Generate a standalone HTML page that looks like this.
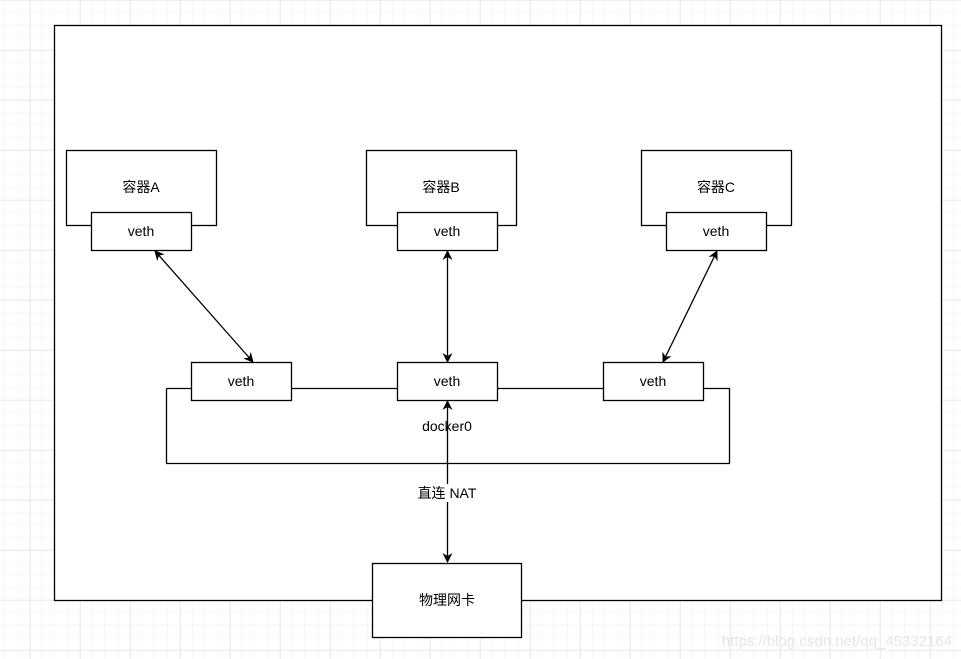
<!DOCTYPE html>
<html><head><meta charset="utf-8"><style>
html,body{margin:0;padding:0;background:#fff;}
svg{display:block;}
text{font-family:"Liberation Sans","Noto Sans CJK SC",sans-serif;font-size:14px;fill:#000;}
</style></head><body>
<svg width="961" height="659" viewBox="0 0 961 659" xmlns="http://www.w3.org/2000/svg">
<defs>
<pattern id="minor" width="12.5" height="12.5" patternUnits="userSpaceOnUse" x="5" y="0">
<path d="M12.5 0V12.5M0 12.5H12.5" fill="none" stroke="#f0f0f0" stroke-width="1"/>
</pattern>
<pattern id="major" width="50" height="50" patternUnits="userSpaceOnUse" x="30" y="0">
<path d="M0 0V50M0 0H50" fill="none" stroke="#dedede" stroke-width="1"/>
</pattern>
<marker id="ar" markerWidth="10" markerHeight="10" refX="9" refY="5" orient="auto-start-reverse" markerUnits="userSpaceOnUse">
<path d="M0 0L10 5L0 10L3 5Z" fill="#000"/>
</marker>
</defs>
<rect width="961" height="659" fill="url(#minor)"/>
<rect width="961" height="659" fill="url(#major)"/>
<rect x="54.5" y="25.5" width="887" height="575" fill="#fff" stroke="#000" stroke-width="1.3"/>
<g fill="#fff" stroke="#000" stroke-width="1.3">
<rect x="66.5" y="150.5" width="150" height="75"/>
<rect x="366.5" y="150.5" width="150" height="75"/>
<rect x="641.5" y="150.5" width="150" height="75"/>
<rect x="91.5" y="212.5" width="100" height="38"/>
<rect x="397.5" y="212.5" width="100" height="38"/>
<rect x="666.5" y="212.5" width="100" height="38"/>
<path d="M166.5 388.5V463.5H729.5V388.5H703M291 388.5H397M497 388.5H603M166.5 388.5H191" fill="none"/>
<rect x="191.5" y="362.5" width="100" height="38"/>
<rect x="397.5" y="362.5" width="100" height="38"/>
<rect x="603.5" y="362.5" width="100" height="38"/>
<rect x="372.5" y="563.5" width="149" height="74"/>
</g>
<g stroke="#000" stroke-width="1.3" fill="none">
<line x1="155" y1="251" x2="253" y2="362" marker-start="url(#ar)" marker-end="url(#ar)"/>
<line x1="447.5" y1="251" x2="447.5" y2="362" marker-start="url(#ar)" marker-end="url(#ar)"/>
<line x1="717" y1="251" x2="663" y2="362" marker-start="url(#ar)" marker-end="url(#ar)"/>
<line x1="447.5" y1="401" x2="447.5" y2="562" marker-start="url(#ar)" marker-end="url(#ar)"/>
</g>
<rect x="414" y="484" width="66" height="18" fill="#fff"/>
<g text-anchor="middle">
<text x="141" y="192">容器A</text>
<text x="441" y="192">容器B</text>
<text x="716" y="192">容器C</text>
<text x="141" y="236">veth</text>
<text x="447" y="236">veth</text>
<text x="716" y="236">veth</text>
<text x="241" y="386">veth</text>
<text x="447" y="386">veth</text>
<text x="653" y="386">veth</text>
<text x="447" y="431">docker0</text>
<text x="447" y="498">直连 NAT</text>
<text x="447" y="605">物理网卡</text>
</g>
<text x="952" y="646" text-anchor="end" style="font-size:15px;fill:#e6e6e6">https://blog.csdn.net/qq_45332164</text>
</svg>
</body></html>
